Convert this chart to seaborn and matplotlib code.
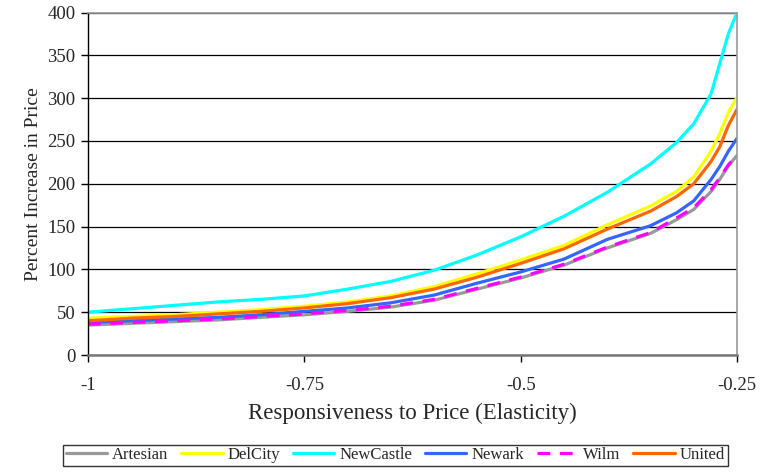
import pandas as pd
import seaborn as sns
import matplotlib.pyplot as plt

# elasticity values (x axis)
elasticity = [-1.0, -0.95, -0.9, -0.85, -0.8, -0.75, -0.7, -0.65, -0.6, -0.55,
              -0.5, -0.45, -0.4, -0.35, -0.32, -0.30, -0.28, -0.27, -0.26, -0.25]

# percent increase in price
artesian = [35, 37, 39, 41, 44, 47, 51, 56, 64, 77, 90, 105, 125, 142, 158, 170, 191, 205, 221, 233]
delcity = [43, 45, 47, 50, 53, 57, 62, 69, 80, 95, 111, 128, 152, 174, 191, 208, 238, 258, 283, 301]
newcastle = [50, 54, 58, 62, 65, 69, 77, 86, 99, 117, 138, 162, 190, 223, 248, 270, 305, 340, 375, 400]
newark = [38, 40, 42, 44, 47, 51, 55, 61, 70, 84, 97, 112, 135, 151, 166, 180, 205, 220, 238, 253]
wilm = [36, 38, 40, 42, 45, 48, 52, 57, 65, 78, 91, 106, 126, 143, 160, 172, 193, 207, 222, 234]
united = [40, 43, 45, 48, 51, 55, 60, 67, 77, 91, 107, 124, 147, 168, 185, 200, 226, 243, 268, 287]

series = ["Artesian", "DelCity", "NewCastle", "Newark", "Wilm", "United"]
values = [artesian, delcity, newcastle, newark, wilm, united]
colors = ["#999999", "#FFFF00", "#00FFFF", "#3366FF", "#FF00FF", "#FF6600"]

sns.set_style("white")
plt.rcParams["font.family"] = ["Liberation Serif", "DejaVu Serif"]

fig = plt.figure(figsize=(7.69, 4.74), dpi=100)
ax = fig.add_axes([0.1144, 0.251, 0.844, 0.7226])

for name, vals, col in zip(series, values, colors):
    df = pd.DataFrame({"x": elasticity, "y": vals})
    ls = (0, (4, 3)) if name == "Wilm" else "-"
    sns.lineplot(x="x", y="y", data=df, ax=ax, color=col, lw=2.3,
                 linestyle=ls, label=name)

ax.set_xlim(-1, -0.25)
ax.set_ylim(0, 400)
ax.set_xticks([-1, -0.75, -0.5, -0.25])
ax.set_xticklabels(["-1", "-0.75", "-0.5", "-0.25"])
ax.set_yticks(range(0, 401, 50))
ax.yaxis.grid(True, color="black", lw=0.9)
ax.set_axisbelow(True)
ax.tick_params(axis="x", direction="out", length=5, width=1, pad=11,
               labelsize=13.5, bottom=True, color="black")
ax.tick_params(axis="y", direction="out", length=5, width=1, pad=4,
               labelsize=13.5, left=True, color="black")

for s in ["top", "right"]:
    ax.spines[s].set_color("#999999")
    ax.spines[s].set_linewidth(1.2)
ax.spines["left"].set_color("black")
ax.spines["left"].set_linewidth(1)
ax.spines["bottom"].set_color("#777777")
ax.spines["bottom"].set_linewidth(1.8)

ax.set_xlabel("Responsiveness to Price (Elasticity)", fontsize=16.5, labelpad=6)
ax.set_ylabel("Percent Increase in Price", fontsize=14, labelpad=4)

ax.get_legend().remove()
handles, labels = ax.get_legend_handles_labels()
leg = fig.legend(handles, labels, loc="lower center", ncol=6,
                 bbox_to_anchor=(0.514, 0.0), fontsize=12, frameon=True,
                 fancybox=False, edgecolor="black", handlelength=2.5,
                 handletextpad=0.3, columnspacing=0.75, borderpad=0.15)
leg.get_frame().set_linewidth(1)

plt.savefig("out.png", dpi=100)
